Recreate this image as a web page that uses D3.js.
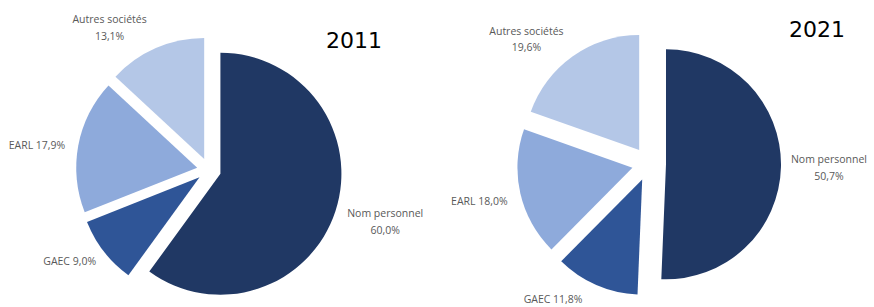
<!DOCTYPE html>
<html>
<head>
<meta charset="utf-8">
<script src="https://cdn.jsdelivr.net/npm/d3@7"></script>
<style>
  body { margin: 0; background: #fff; }
  svg { display: block; }
</style>
</head>
<body>
<div id="chart"></div>
<script>
// données
var categories = ["Nom personnel", "GAEC", "EARL", "Autres sociétés"];
var values2011 = [60.0, 9.0, 17.9, 13.1];
var values2021 = [50.7, 11.8, 18.0, 19.6];
var years = ["2011", "2021"];
var colors = ["#203864", "#2f5597", "#8eaadb", "#b4c7e7"];

var width = 874, height = 307;

// mise en page de chaque camembert
var layout = [
  { cx: 209, cy: 170, r: 121, explode: 12, yearX: 354, yearY: 48,
    nudge: [[5, -6], [-5, -13], [-1, 7], [-29, 17]] },
  { cx: 649, cy: 164, r: 115, explode: 17, yearX: 817, yearY: 37,
    nudge: [[0, -2], [-28, -21], [0, -1], [-21, 17]] }
];
var labelRadius = [180, 170, 174, 176];

var svg = d3.select("#chart").append("svg").attr("width", width).attr("height", height);

var pie = d3.pie().sort(null).value(function (d) { return d; });

function fmt(v) { return d3.format(".1f")(v).replace(".", ",") + "%"; }

[values2011, values2021].forEach(function (vals, k) {
  var L = layout[k];
  var g = svg.append("g").attr("transform", "translate(" + L.cx + "," + L.cy + ")");
  var arc = d3.arc().innerRadius(0).outerRadius(L.r);
  var arcs = pie(vals);

  // parts éclatées
  g.selectAll("path").data(arcs).enter().append("path")
    .attr("d", arc)
    .attr("fill", function (d, i) { return colors[i]; })
    .attr("transform", function (d) {
      var a = (d.startAngle + d.endAngle) / 2;
      return "translate(" + (Math.sin(a) * L.explode) + "," + (-Math.cos(a) * L.explode) + ")";
    });

  // étiquettes
  arcs.forEach(function (d, i) {
    var a = (d.startAngle + d.endAngle) / 2;
    var x = Math.sin(a) * labelRadius[i] + L.nudge[i][0];
    var y = -Math.cos(a) * labelRadius[i] + L.nudge[i][1];
    var t = g.append("text").attr("x", x).attr("y", y)
      .attr("text-anchor", "middle")
      .attr("font-family", "'Open Sans', sans-serif").attr("font-size", 10.5)
      .attr("fill", "#595959");
    if (i == 0 || i == 3) {
      t.append("tspan").attr("x", x).attr("dy", "-0.25em").text(categories[i]);
      t.append("tspan").attr("x", x).attr("dy", "1.6em").text(fmt(d.data));
    } else {
      t.attr("dy", ".35em").text(categories[i] + " " + fmt(d.data));
    }
  });

  svg.append("text").attr("x", L.yearX).attr("y", L.yearY)
    .attr("text-anchor", "middle")
    .attr("font-family", "'DejaVu Sans', sans-serif").attr("font-size", 22)
    .attr("fill", "#000").text(years[k]);
});
</script>
</body>
</html>
